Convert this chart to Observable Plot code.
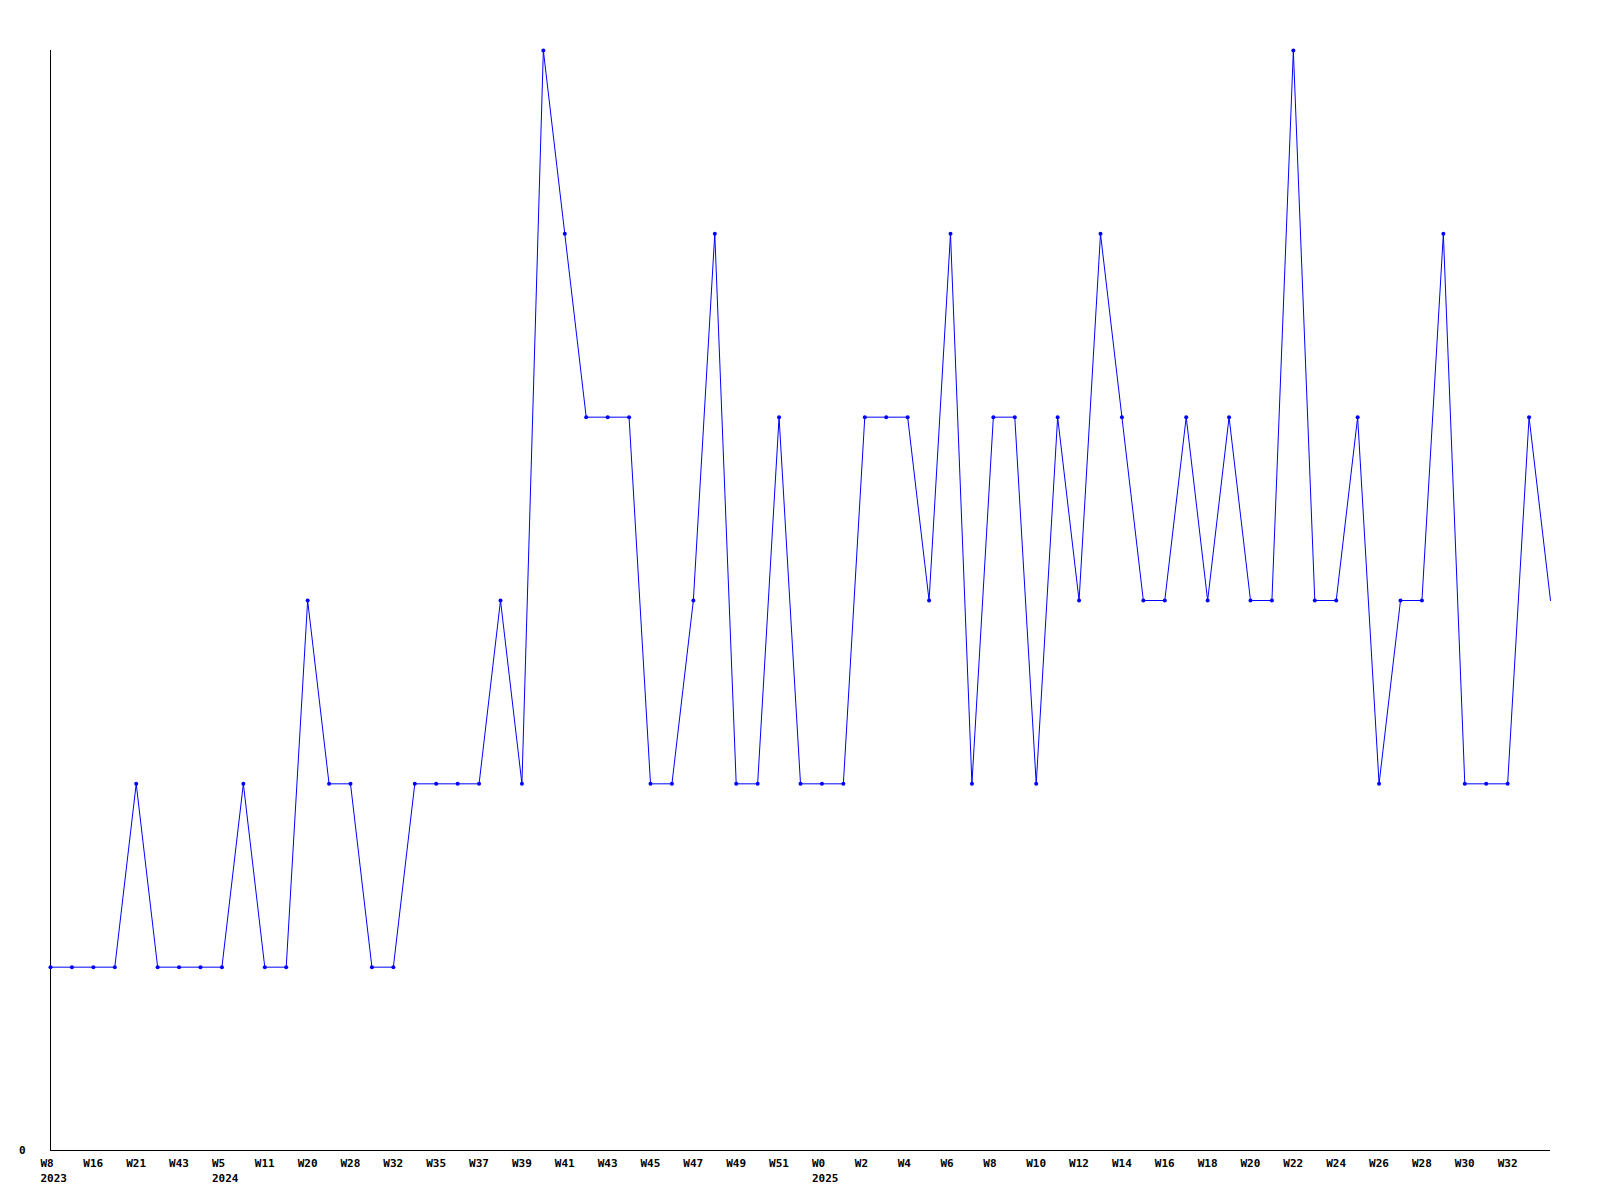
<!DOCTYPE html>
<html>
<head>
<meta charset="utf-8">
<script src="https://cdn.jsdelivr.net/npm/d3@7"></script>
<script src="https://cdn.jsdelivr.net/npm/@observablehq/plot@0.6"></script>
<style>
  html, body { margin: 0; padding: 0; background: #fff; }
  #chart svg { display: block; }
</style>
</head>
<body>
<div id="chart"></div>
<script>
const years = [
  2023,2023,2023,2023,2023,2023,2023,2023,
  2024,2024,2024,2024,2024,2024,2024,2024,2024,2024,2024,2024,2024,2024,2024,2024,2024,2024,2024,2024,2024,2024,2024,2024,2024,2024,2024,2024,
  2025,2025,2025,2025,2025,2025,2025,2025,2025,2025,2025,2025,2025,2025,2025,2025,2025,2025,2025,2025,2025,2025,2025,2025,2025,2025,2025,2025,2025,2025,2025,2025,2025,2025,2025
];
const weeks = [
  8,12,16,18,21,30,43,50,
  5,8,11,15,20,24,28,30,32,34,35,36,37,38,39,40,41,42,43,44,45,46,47,48,49,50,51,52,
  0,1,2,3,4,5,6,7,8,9,10,11,12,13,14,15,16,17,18,19,20,21,22,23,24,25,26,27,28,29,30,31,32,33,34
];
const values = [
  1,1,1,1,2,1,1,1,1,2,1,1,3,2,2,1,1,2,2,2,2,3,2,6,5,4,4,4,2,2,3,5,2,2,4,2,2,2,4,4,4,3,5,2,4,4,2,4,3,5,
  4,3,3,4,3,4,3,3,6,3,3,4,2,3,3,5,2,2,2,4,3
];

const data = values.map((v, i) => ({key: years[i] + "-W" + weeks[i], year: years[i], week: weeks[i], v}));
const keys = data.map(d => d.key);
const byKey = new Map(data.map(d => [d.key, d]));
const tickKeys = keys.filter((k, i) => i % 2 === 0 && i < keys.length - 1);
const yearShown = new Set();
const tickLabel = new Map();
for (const k of tickKeys) {
  const d = byKey.get(k);
  let s = "W" + d.week;
  if (!yearShown.has(d.year)) { yearShown.add(d.year); s += "\n" + d.year; }
  tickLabel.set(k, s);
}

const blue = "#0000ff";
const chart = Plot.plot({
  width: 1600,
  height: 1200,
  marginTop: 50,
  marginBottom: 50,
  marginLeft: 50,
  marginRight: 50,
  style: {fontFamily: "'DejaVu Sans Mono', monospace", fontSize: "11px", fontWeight: "bold", background: "#fff", color: "#000"},
  x: {type: "point", domain: keys, padding: 0, round: false},
  y: {domain: [0, 6]},
  marks: [
    Plot.ruleX([keys[0]], {stroke: "#000", strokeWidth: 1}),
    Plot.ruleY([0], {stroke: "#000", strokeWidth: 1}),
    Plot.line(data, {x: "key", y: "v", stroke: blue, strokeWidth: 1}),
    Plot.dot(data.slice(0, -1), {x: "key", y: "v", fill: blue, r: 2, stroke: "none"}),
    Plot.axisX({ticks: tickKeys, tickFormat: k => tickLabel.get(k), tickSize: 0, tickPadding: 6, textAnchor: "start", dx: -10, lineHeight: 1.35, label: null}),
    Plot.axisY({ticks: [0], tickFormat: d => String(d), tickSize: 0, tickPadding: 25, label: null})
  ]
});
document.getElementById("chart").appendChild(chart);
</script>
</body>
</html>
